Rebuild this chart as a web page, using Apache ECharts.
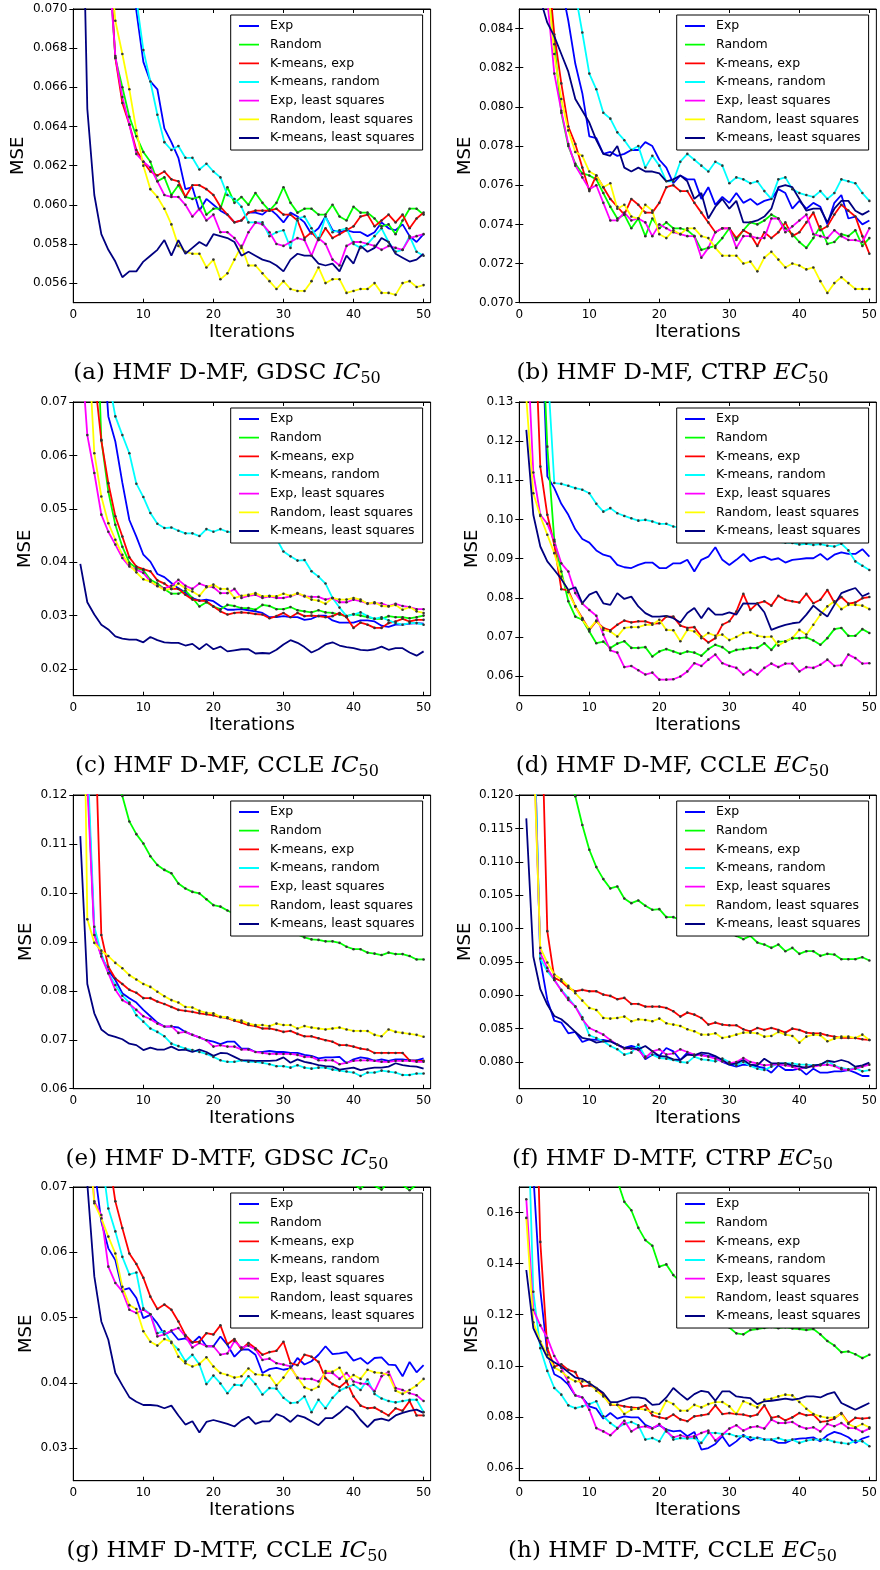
<!DOCTYPE html>
<html>
<head>
<meta charset="utf-8">
<script src="https://cdn.jsdelivr.net/npm/echarts@6.0.0/dist/echarts.min.js"></script>
<style>
  html, body { margin: 0; padding: 0; background: #fff; }
  #chart { width: 880px; height: 1570px; }
</style>
</head>
<body>
<div id="chart"></div>
<script>
const iterations = [1, 2, 3, 4, 5, 6, 7, 8, 9, 10, 11, 12, 13, 14, 15, 16, 17, 18, 19, 20,
  21, 22, 23, 24, 25, 26, 27, 28, 29, 30, 31, 32, 33, 34, 35, 36, 37, 38, 39, 40,
  41, 42, 43, 44, 45, 46, 47, 48, 49, 50];
const names = ['Exp', 'Random', 'K-means, exp', 'K-means, random', 'Exp, least squares',
  'Random, least squares', 'K-means, least squares'];
const xTicks = [0, 10, 20, 30, 40, 50];

// (a) HMF D-MF, GDSC IC50
const aExp = [0.125, 0.108, 0.097, 0.090, 0.084, 0.080, 0.077, 0.0745, 0.0699, 0.0673, 0.0663, 0.0659, 0.0639, 0.0632, 0.0624, 0.0608, 0.0609, 0.0597, 0.0603, 0.0600, 0.0597, 0.0595, 0.0591, 0.0592, 0.0596, 0.0596, 0.0595, 0.0598, 0.0595, 0.0591, 0.0596, 0.0594, 0.0591, 0.0585, 0.0588, 0.0594, 0.0587, 0.0586, 0.0587, 0.0586, 0.0586, 0.0584, 0.0586, 0.0591, 0.0588, 0.0587, 0.0590, 0.0584, 0.0581, 0.0585];
const aRandom = [0.118, 0.100, 0.089, 0.080, 0.073, 0.0675, 0.0660, 0.0645, 0.0635, 0.0627, 0.0622, 0.0612, 0.0614, 0.0605, 0.0610, 0.0604, 0.0603, 0.0604, 0.0595, 0.0598, 0.0598, 0.0609, 0.0601, 0.0604, 0.0600, 0.0606, 0.0601, 0.0597, 0.0601, 0.0609, 0.0601, 0.0596, 0.0598, 0.0598, 0.0595, 0.0595, 0.0600, 0.0594, 0.0592, 0.0599, 0.0596, 0.0596, 0.0593, 0.0589, 0.0590, 0.0585, 0.0592, 0.0598, 0.0598, 0.0595];
const aKmExp = [0.115, 0.098, 0.087, 0.079, 0.0735, 0.0675, 0.0652, 0.0641, 0.0628, 0.0622, 0.0617, 0.0615, 0.0617, 0.0613, 0.0612, 0.0604, 0.0610, 0.0610, 0.0608, 0.0605, 0.0599, 0.0595, 0.0591, 0.0592, 0.0596, 0.0597, 0.0597, 0.0597, 0.0598, 0.0595, 0.0595, 0.0592, 0.0583, 0.0586, 0.0582, 0.0588, 0.0583, 0.0585, 0.0587, 0.0589, 0.0594, 0.0595, 0.0589, 0.0592, 0.0595, 0.0591, 0.0595, 0.0588, 0.0593, 0.0596];
const aKmRand = [0.130, 0.112, 0.100, 0.092, 0.086, 0.081, 0.077, 0.074, 0.0705, 0.0679, 0.0663, 0.0646, 0.0632, 0.0628, 0.0630, 0.0624, 0.0624, 0.0618, 0.0621, 0.0617, 0.0614, 0.0605, 0.0603, 0.0599, 0.0591, 0.0591, 0.0591, 0.0584, 0.0586, 0.0587, 0.0578, 0.0593, 0.0594, 0.0588, 0.0582, 0.0594, 0.0586, 0.0587, 0.0588, 0.0580, 0.0578, 0.0580, 0.0584, 0.0588, 0.0581, 0.0576, 0.0577, 0.0584, 0.0576, 0.0574];
const aExpLS = [0.112, 0.096, 0.086, 0.078, 0.0725, 0.0676, 0.0655, 0.0641, 0.0626, 0.0622, 0.0619, 0.0612, 0.0605, 0.0604, 0.0604, 0.0600, 0.0594, 0.0598, 0.0592, 0.0595, 0.0586, 0.0586, 0.0583, 0.0578, 0.0586, 0.0591, 0.0590, 0.0586, 0.0580, 0.0579, 0.0581, 0.0583, 0.0582, 0.0574, 0.0583, 0.0580, 0.0572, 0.0569, 0.0579, 0.0581, 0.0581, 0.0580, 0.0579, 0.0577, 0.0579, 0.0578, 0.0577, 0.0583, 0.0584, 0.0585];
const aRandLS = [0.110, 0.095, 0.085, 0.078, 0.0735, 0.0694, 0.0677, 0.0659, 0.0638, 0.0620, 0.0608, 0.0604, 0.0598, 0.0590, 0.0579, 0.0576, 0.0575, 0.0575, 0.0568, 0.0572, 0.0562, 0.0565, 0.0572, 0.0579, 0.0569, 0.0569, 0.0565, 0.0561, 0.0557, 0.0561, 0.0557, 0.0556, 0.0556, 0.0561, 0.0568, 0.0560, 0.0562, 0.0562, 0.0555, 0.0556, 0.0557, 0.0557, 0.0560, 0.0555, 0.0555, 0.0554, 0.0560, 0.0561, 0.0558, 0.0559];
const aKmLS = [0.082, 0.0649, 0.0605, 0.0585, 0.0577, 0.0571, 0.0563, 0.0566, 0.0566, 0.0571, 0.0574, 0.0577, 0.0582, 0.0574, 0.0582, 0.0575, 0.0578, 0.0581, 0.0579, 0.0585, 0.0584, 0.0583, 0.0581, 0.0574, 0.0576, 0.0574, 0.0572, 0.0571, 0.0569, 0.0566, 0.0572, 0.0575, 0.0574, 0.0574, 0.0570, 0.0569, 0.0570, 0.0566, 0.0574, 0.0570, 0.0579, 0.0576, 0.0578, 0.0583, 0.0581, 0.0575, 0.0573, 0.0571, 0.0572, 0.0575];
const aTicks = [0.056, 0.058, 0.060, 0.062, 0.064, 0.066, 0.068, 0.070];

// (b) HMF D-MF, CTRP EC50
const bExp = [0.125, 0.110, 0.100, 0.094, 0.090, 0.0862, 0.0844, 0.0822, 0.0807, 0.0785, 0.0784, 0.0776, 0.0777, 0.0775, 0.0776, 0.0778, 0.0778, 0.0782, 0.0780, 0.0773, 0.0769, 0.0761, 0.0765, 0.0763, 0.0763, 0.0753, 0.0759, 0.0750, 0.0754, 0.0751, 0.0756, 0.0751, 0.0753, 0.0750, 0.0752, 0.0753, 0.0758, 0.0756, 0.0748, 0.0752, 0.0748, 0.0751, 0.0749, 0.0740, 0.0751, 0.0755, 0.0743, 0.0744, 0.0740, 0.0742];
const bRandom = [0.115, 0.100, 0.092, 0.087, 0.0832, 0.0797, 0.0780, 0.0771, 0.0766, 0.0765, 0.0763, 0.0756, 0.0749, 0.0743, 0.0745, 0.0738, 0.0743, 0.0734, 0.0743, 0.0738, 0.0741, 0.0738, 0.0738, 0.0737, 0.0734, 0.0727, 0.0728, 0.0729, 0.0733, 0.0738, 0.0732, 0.0737, 0.0741, 0.0740, 0.0742, 0.0745, 0.0743, 0.0738, 0.0735, 0.0731, 0.0728, 0.0733, 0.0739, 0.0730, 0.0731, 0.0735, 0.0734, 0.0737, 0.0729, 0.0733];
const bKmExp = [0.115, 0.101, 0.093, 0.0875, 0.0837, 0.0812, 0.0790, 0.0781, 0.0769, 0.0757, 0.0765, 0.0759, 0.0753, 0.0749, 0.0745, 0.0753, 0.0750, 0.0746, 0.0746, 0.0751, 0.0759, 0.0760, 0.0757, 0.0757, 0.0751, 0.0746, 0.0741, 0.0736, 0.0738, 0.0738, 0.0733, 0.0737, 0.0735, 0.0729, 0.0736, 0.0733, 0.0736, 0.0741, 0.0734, 0.0736, 0.0741, 0.0746, 0.0737, 0.0739, 0.0745, 0.0750, 0.0747, 0.0744, 0.0734, 0.0725];
const bKmRand = [0.140, 0.120, 0.108, 0.100, 0.095, 0.091, 0.088, 0.0858, 0.0838, 0.0817, 0.0809, 0.0797, 0.0794, 0.0787, 0.0783, 0.0778, 0.0780, 0.0769, 0.0775, 0.0770, 0.0762, 0.0762, 0.0772, 0.0776, 0.0773, 0.0770, 0.0767, 0.0772, 0.0770, 0.0761, 0.0764, 0.0763, 0.0761, 0.0762, 0.0757, 0.0753, 0.0763, 0.0764, 0.0758, 0.0756, 0.0755, 0.0754, 0.0757, 0.0753, 0.0756, 0.0763, 0.0762, 0.0761, 0.0756, 0.0752];
const bExpLS = [0.110, 0.097, 0.090, 0.0855, 0.0817, 0.0798, 0.0781, 0.0770, 0.0764, 0.0758, 0.0760, 0.0751, 0.0742, 0.0742, 0.0746, 0.0742, 0.0743, 0.0741, 0.0734, 0.0740, 0.0738, 0.0736, 0.0735, 0.0734, 0.0734, 0.0723, 0.0728, 0.0736, 0.0738, 0.0738, 0.0728, 0.0734, 0.0734, 0.0733, 0.0733, 0.0743, 0.0743, 0.0736, 0.0739, 0.0742, 0.0745, 0.0735, 0.0734, 0.0733, 0.0737, 0.0734, 0.0732, 0.0732, 0.0731, 0.0738];
const bRandLS = [0.112, 0.098, 0.091, 0.0865, 0.0827, 0.0804, 0.0788, 0.0777, 0.0775, 0.0767, 0.0765, 0.0759, 0.0761, 0.0748, 0.0750, 0.0744, 0.0743, 0.0750, 0.0747, 0.0735, 0.0733, 0.0737, 0.0735, 0.0738, 0.0738, 0.0734, 0.0733, 0.0728, 0.0724, 0.0724, 0.0724, 0.0720, 0.0721, 0.0716, 0.0723, 0.0726, 0.0722, 0.0718, 0.0720, 0.0719, 0.0717, 0.0718, 0.0711, 0.0705, 0.0710, 0.0713, 0.0710, 0.0707, 0.0707, 0.0707];
const bKmLS = [0.095, 0.089, 0.0855, 0.0843, 0.0836, 0.0827, 0.0818, 0.0804, 0.0798, 0.0792, 0.0783, 0.0776, 0.0775, 0.0780, 0.0769, 0.0767, 0.0769, 0.0767, 0.0767, 0.0766, 0.0762, 0.0763, 0.0765, 0.0762, 0.0753, 0.0756, 0.0743, 0.0749, 0.0753, 0.0748, 0.0752, 0.0741, 0.0741, 0.0742, 0.0744, 0.0748, 0.0759, 0.0760, 0.0759, 0.0753, 0.0747, 0.0748, 0.0748, 0.0741, 0.0748, 0.0752, 0.0752, 0.0747, 0.0745, 0.0747];
const bTicks = [0.070, 0.072, 0.074, 0.076, 0.078, 0.080, 0.082, 0.084];

// (c) HMF D-MF, CCLE IC50
const cExp = [0.160, 0.130, 0.105, 0.086, 0.0673, 0.0626, 0.0549, 0.0479, 0.0448, 0.0414, 0.0401, 0.0378, 0.0372, 0.0361, 0.0351, 0.0343, 0.0333, 0.0328, 0.0330, 0.0327, 0.0318, 0.0311, 0.0311, 0.0312, 0.0310, 0.0308, 0.0305, 0.0297, 0.0297, 0.0299, 0.0297, 0.0297, 0.0292, 0.0294, 0.0300, 0.0300, 0.0291, 0.0287, 0.0287, 0.0287, 0.0291, 0.0291, 0.0289, 0.0281, 0.0279, 0.0283, 0.0283, 0.0285, 0.0286, 0.0285];
const cRandom = [0.160, 0.130, 0.100, 0.0629, 0.0532, 0.0470, 0.0429, 0.0399, 0.0389, 0.0385, 0.0367, 0.0360, 0.0350, 0.0341, 0.0341, 0.0347, 0.0333, 0.0317, 0.0325, 0.0317, 0.0312, 0.0320, 0.0318, 0.0314, 0.0314, 0.0311, 0.0320, 0.0318, 0.0312, 0.0312, 0.0316, 0.0310, 0.0308, 0.0306, 0.0310, 0.0306, 0.0305, 0.0302, 0.0299, 0.0303, 0.0300, 0.0297, 0.0294, 0.0294, 0.0299, 0.0297, 0.0297, 0.0295, 0.0297, 0.0300];
const cKmExp = [0.130, 0.095, 0.075, 0.0628, 0.0548, 0.0486, 0.0448, 0.0409, 0.0392, 0.0387, 0.0383, 0.0366, 0.0360, 0.0350, 0.0350, 0.0339, 0.0330, 0.0328, 0.0327, 0.0317, 0.0308, 0.0302, 0.0305, 0.0306, 0.0305, 0.0303, 0.0302, 0.0295, 0.0299, 0.0305, 0.0297, 0.0305, 0.0299, 0.0300, 0.0299, 0.0297, 0.0299, 0.0305, 0.0297, 0.0277, 0.0287, 0.0283, 0.0277, 0.0277, 0.0286, 0.0289, 0.0294, 0.0289, 0.0292, 0.0292];
const cKmRand = [0.160, 0.125, 0.100, 0.085, 0.0745, 0.0673, 0.0638, 0.0604, 0.0547, 0.0522, 0.0492, 0.0472, 0.0464, 0.0465, 0.0459, 0.0454, 0.0454, 0.0449, 0.0462, 0.0457, 0.0462, 0.0457, 0.0456, 0.0458, 0.0455, 0.0460, 0.0453, 0.0450, 0.0444, 0.0420, 0.0411, 0.0403, 0.0404, 0.0383, 0.0373, 0.0360, 0.0333, 0.0315, 0.0299, 0.0302, 0.0306, 0.0299, 0.0294, 0.0297, 0.0291, 0.0286, 0.0283, 0.0286, 0.0286, 0.0283];
const cExpLS = [0.082, 0.0638, 0.0567, 0.0489, 0.0457, 0.0433, 0.0408, 0.0392, 0.0386, 0.0380, 0.0364, 0.0355, 0.0351, 0.0356, 0.0367, 0.0356, 0.0350, 0.0360, 0.0355, 0.0353, 0.0342, 0.0342, 0.0350, 0.0333, 0.0337, 0.0339, 0.0333, 0.0336, 0.0333, 0.0333, 0.0336, 0.0341, 0.0336, 0.0335, 0.0335, 0.0330, 0.0333, 0.0325, 0.0325, 0.0330, 0.0327, 0.0323, 0.0323, 0.0323, 0.0318, 0.0322, 0.0318, 0.0316, 0.0312, 0.0312];
const cRandLS = [0.120, 0.085, 0.0604, 0.0523, 0.0473, 0.0442, 0.0414, 0.0395, 0.0381, 0.0368, 0.0364, 0.0356, 0.0348, 0.0350, 0.0360, 0.0351, 0.0345, 0.0337, 0.0353, 0.0358, 0.0350, 0.0350, 0.0333, 0.0337, 0.0339, 0.0342, 0.0336, 0.0337, 0.0336, 0.0341, 0.0337, 0.0342, 0.0337, 0.0330, 0.0328, 0.0322, 0.0333, 0.0330, 0.0330, 0.0333, 0.0330, 0.0322, 0.0325, 0.0318, 0.0317, 0.0320, 0.0311, 0.0316, 0.0308, 0.0305];
const cKmLS = [0.0397, 0.0325, 0.0302, 0.0283, 0.0274, 0.0261, 0.0257, 0.0255, 0.0255, 0.0250, 0.0260, 0.0254, 0.0250, 0.0249, 0.0249, 0.0244, 0.0247, 0.0237, 0.0247, 0.0237, 0.0242, 0.0233, 0.0235, 0.0237, 0.0237, 0.0229, 0.0230, 0.0229, 0.0236, 0.0246, 0.0254, 0.0249, 0.0241, 0.0231, 0.0237, 0.0246, 0.0250, 0.0244, 0.0241, 0.0239, 0.0236, 0.0235, 0.0237, 0.0242, 0.0236, 0.0239, 0.0239, 0.0231, 0.0225, 0.0233];
const cTicks = [0.02, 0.03, 0.04, 0.05, 0.06, 0.07];

// (d) HMF D-MF, CCLE EC50
const dExp = [0.200, 0.180, 0.160, 0.1110, 0.1080, 0.1040, 0.1012, 0.0975, 0.0950, 0.0941, 0.0921, 0.0910, 0.0905, 0.0884, 0.0878, 0.0876, 0.0884, 0.0890, 0.0890, 0.0876, 0.0876, 0.0888, 0.0888, 0.0897, 0.0867, 0.0897, 0.0905, 0.0929, 0.0897, 0.0884, 0.0897, 0.0912, 0.0893, 0.0901, 0.0905, 0.0897, 0.0901, 0.0890, 0.0897, 0.0899, 0.0901, 0.0901, 0.0912, 0.0897, 0.0910, 0.0916, 0.0912, 0.0912, 0.0924, 0.0905];
const dRandom = [0.220, 0.190, 0.160, 0.1186, 0.0948, 0.0867, 0.0791, 0.0752, 0.0744, 0.0714, 0.0684, 0.0688, 0.0672, 0.0683, 0.0689, 0.0672, 0.0672, 0.0674, 0.0650, 0.0663, 0.0669, 0.0663, 0.0657, 0.0663, 0.0660, 0.0652, 0.0669, 0.0680, 0.0674, 0.0660, 0.0667, 0.0669, 0.0672, 0.0672, 0.0684, 0.0667, 0.0688, 0.0688, 0.0697, 0.0697, 0.0699, 0.0691, 0.0680, 0.0697, 0.0720, 0.0723, 0.0703, 0.0703, 0.0720, 0.0710];
const dKmExp = [0.200, 0.160, 0.1135, 0.1012, 0.0935, 0.0822, 0.0819, 0.0778, 0.0748, 0.0718, 0.0740, 0.0723, 0.0717, 0.0731, 0.0742, 0.0737, 0.0740, 0.0740, 0.0734, 0.0735, 0.0752, 0.0752, 0.0729, 0.0723, 0.0725, 0.0701, 0.0686, 0.0697, 0.0731, 0.0740, 0.0765, 0.0810, 0.0769, 0.0786, 0.0791, 0.0780, 0.0805, 0.0795, 0.0791, 0.0788, 0.0810, 0.0786, 0.0795, 0.0820, 0.0788, 0.0802, 0.0785, 0.0788, 0.0799, 0.0802];
const dKmRand = [0.250, 0.210, 0.170, 0.140, 0.1093, 0.1091, 0.1086, 0.1080, 0.1076, 0.1067, 0.1040, 0.1020, 0.1029, 0.1016, 0.1009, 0.1003, 0.0997, 0.0999, 0.0995, 0.0989, 0.0989, 0.0982, 0.0980, 0.0976, 0.0977, 0.0971, 0.0970, 0.0964, 0.0965, 0.0960, 0.0957, 0.0956, 0.0951, 0.0952, 0.0947, 0.0945, 0.0943, 0.0941, 0.0940, 0.0936, 0.0938, 0.0935, 0.0937, 0.0933, 0.0931, 0.0938, 0.0921, 0.0893, 0.0882, 0.0871];
const dExpLS = [0.150, 0.1120, 0.1012, 0.0989, 0.0944, 0.0888, 0.0867, 0.0812, 0.0785, 0.0769, 0.0754, 0.0706, 0.0666, 0.0660, 0.0623, 0.0626, 0.0615, 0.0604, 0.0609, 0.0591, 0.0591, 0.0592, 0.0599, 0.0612, 0.0633, 0.0626, 0.0642, 0.0655, 0.0633, 0.0626, 0.0621, 0.0604, 0.0616, 0.0604, 0.0621, 0.0632, 0.0623, 0.0632, 0.0632, 0.0612, 0.0623, 0.0621, 0.0629, 0.0642, 0.0626, 0.0628, 0.0655, 0.0646, 0.0632, 0.0633];
const dRandLS = [0.1310, 0.1067, 0.1009, 0.0961, 0.0914, 0.0854, 0.0814, 0.0778, 0.0744, 0.0720, 0.0742, 0.0718, 0.0714, 0.0701, 0.0723, 0.0725, 0.0725, 0.0731, 0.0731, 0.0744, 0.0718, 0.0717, 0.0689, 0.0718, 0.0714, 0.0697, 0.0710, 0.0703, 0.0706, 0.0692, 0.0700, 0.0710, 0.0712, 0.0703, 0.0700, 0.0701, 0.0678, 0.0689, 0.0697, 0.0718, 0.0706, 0.0731, 0.0757, 0.0778, 0.0791, 0.0771, 0.0782, 0.0782, 0.0780, 0.0771];
const dKmLS = [0.1229, 0.1012, 0.0931, 0.0893, 0.0871, 0.0848, 0.0820, 0.0827, 0.0786, 0.0808, 0.0816, 0.0786, 0.0782, 0.0812, 0.0797, 0.0803, 0.0778, 0.0761, 0.0752, 0.0752, 0.0754, 0.0748, 0.0737, 0.0761, 0.0774, 0.0748, 0.0774, 0.0757, 0.0757, 0.0763, 0.0757, 0.0786, 0.0785, 0.0785, 0.0763, 0.0718, 0.0725, 0.0731, 0.0735, 0.0737, 0.0757, 0.0780, 0.0765, 0.0752, 0.0782, 0.0812, 0.0819, 0.0825, 0.0804, 0.0812];
const dTicks = [0.06, 0.07, 0.08, 0.09, 0.10, 0.11, 0.12, 0.13];

// (e) HMF D-MTF, GDSC IC50
const eExp = [0.250, 0.125, 0.0917, 0.0871, 0.0842, 0.0822, 0.0795, 0.0785, 0.0776, 0.0761, 0.0748, 0.0735, 0.0727, 0.0727, 0.0725, 0.0716, 0.0710, 0.0705, 0.0699, 0.0696, 0.0691, 0.0696, 0.0696, 0.0682, 0.0682, 0.0675, 0.0675, 0.0677, 0.0675, 0.0675, 0.0673, 0.0673, 0.0669, 0.0667, 0.0662, 0.0664, 0.0664, 0.0665, 0.0652, 0.0660, 0.0664, 0.0662, 0.0657, 0.0660, 0.0657, 0.0660, 0.0660, 0.0658, 0.0658, 0.0662];
const eRandom = [0.300, 0.220, 0.175, 0.150, 0.135, 0.126, 0.1198, 0.1146, 0.1120, 0.1101, 0.1075, 0.1057, 0.1047, 0.1040, 0.1019, 0.1009, 0.1002, 0.0999, 0.0987, 0.0975, 0.0972, 0.0964, 0.0957, 0.0953, 0.0947, 0.0944, 0.0938, 0.0936, 0.0929, 0.0926, 0.0920, 0.0915, 0.0909, 0.0905, 0.0904, 0.0901, 0.0901, 0.0898, 0.0890, 0.0885, 0.0885, 0.0878, 0.0876, 0.0873, 0.0878, 0.0875, 0.0875, 0.0871, 0.0864, 0.0864];
const eKmExp = [0.300, 0.200, 0.140, 0.0914, 0.0849, 0.0825, 0.0814, 0.0802, 0.0796, 0.0785, 0.0785, 0.0778, 0.0773, 0.0767, 0.0761, 0.0759, 0.0757, 0.0754, 0.0752, 0.0750, 0.0746, 0.0744, 0.0739, 0.0735, 0.0730, 0.0728, 0.0723, 0.0723, 0.0720, 0.0716, 0.0718, 0.0712, 0.0707, 0.0707, 0.0703, 0.0699, 0.0696, 0.0689, 0.0689, 0.0686, 0.0682, 0.0680, 0.0673, 0.0673, 0.0673, 0.0673, 0.0673, 0.0658, 0.0657, 0.0657];
const eKmRand = [0.260, 0.128, 0.0931, 0.0876, 0.0836, 0.0812, 0.0790, 0.0776, 0.0750, 0.0737, 0.0723, 0.0716, 0.0707, 0.0692, 0.0687, 0.0682, 0.0679, 0.0675, 0.0671, 0.0665, 0.0658, 0.0655, 0.0655, 0.0658, 0.0655, 0.0655, 0.0653, 0.0650, 0.0646, 0.0646, 0.0643, 0.0648, 0.0643, 0.0641, 0.0643, 0.0643, 0.0639, 0.0637, 0.0635, 0.0633, 0.0626, 0.0633, 0.0633, 0.0637, 0.0635, 0.0633, 0.0628, 0.0628, 0.0631, 0.0631];
const eExpLS = [0.240, 0.122, 0.0914, 0.0870, 0.0836, 0.0802, 0.0781, 0.0773, 0.0761, 0.0748, 0.0742, 0.0733, 0.0727, 0.0728, 0.0714, 0.0716, 0.0710, 0.0705, 0.0699, 0.0686, 0.0689, 0.0686, 0.0686, 0.0680, 0.0680, 0.0675, 0.0673, 0.0671, 0.0671, 0.0671, 0.0671, 0.0669, 0.0665, 0.0665, 0.0658, 0.0658, 0.0658, 0.0650, 0.0653, 0.0657, 0.0658, 0.0658, 0.0657, 0.0655, 0.0655, 0.0657, 0.0657, 0.0657, 0.0655, 0.0655];
const eRandLS = [0.200, 0.0946, 0.0898, 0.0882, 0.0871, 0.0857, 0.0846, 0.0832, 0.0823, 0.0814, 0.0808, 0.0798, 0.0789, 0.0781, 0.0776, 0.0767, 0.0766, 0.0759, 0.0755, 0.0754, 0.0747, 0.0746, 0.0740, 0.0739, 0.0733, 0.0730, 0.0730, 0.0728, 0.0733, 0.0730, 0.0730, 0.0723, 0.0728, 0.0725, 0.0723, 0.0721, 0.0723, 0.0725, 0.0721, 0.0718, 0.0718, 0.0718, 0.0710, 0.0707, 0.0721, 0.0716, 0.0714, 0.0712, 0.0710, 0.0706];
const eKmLS = [0.1116, 0.0814, 0.0754, 0.0721, 0.0710, 0.0706, 0.0701, 0.0692, 0.0689, 0.0679, 0.0684, 0.0680, 0.0680, 0.0686, 0.0679, 0.0680, 0.0675, 0.0680, 0.0675, 0.0667, 0.0673, 0.0672, 0.0665, 0.0658, 0.0658, 0.0657, 0.0657, 0.0657, 0.0658, 0.0664, 0.0653, 0.0660, 0.0655, 0.0652, 0.0648, 0.0646, 0.0645, 0.0639, 0.0641, 0.0643, 0.0638, 0.0641, 0.0643, 0.0643, 0.0645, 0.0652, 0.0648, 0.0646, 0.0645, 0.0641];
const eTicks = [0.06, 0.07, 0.08, 0.09, 0.10, 0.11, 0.12];

// (f) HMF D-MTF, CTRP EC50
const fExp = [0.200, 0.135, 0.0953, 0.0893, 0.0862, 0.0859, 0.0843, 0.0845, 0.0830, 0.0834, 0.0833, 0.0833, 0.0831, 0.0826, 0.0821, 0.0824, 0.0821, 0.0804, 0.0811, 0.0809, 0.0821, 0.0816, 0.0803, 0.0814, 0.0810, 0.0811, 0.0809, 0.0808, 0.0800, 0.0796, 0.0793, 0.0796, 0.0795, 0.0793, 0.0791, 0.0784, 0.0795, 0.0788, 0.0788, 0.0790, 0.0781, 0.0790, 0.0784, 0.0784, 0.0786, 0.0786, 0.0788, 0.0784, 0.0779, 0.0779];
const fRandom = [0.250, 0.200, 0.170, 0.150, 0.138, 0.130, 0.124, 0.1198, 0.1155, 0.1118, 0.1092, 0.1074, 0.1060, 0.1063, 0.1045, 0.1038, 0.1042, 0.1034, 0.1028, 0.1029, 0.1017, 0.1017, 0.1013, 0.1011, 0.1005, 0.1004, 0.0999, 0.0998, 0.0994, 0.0992, 0.0989, 0.0984, 0.0989, 0.0979, 0.0976, 0.0971, 0.0976, 0.0966, 0.0971, 0.0962, 0.0966, 0.0966, 0.0959, 0.0962, 0.0961, 0.0954, 0.0954, 0.0954, 0.0957, 0.0952];
const fKmExp = [0.300, 0.200, 0.140, 0.0996, 0.0926, 0.0921, 0.0911, 0.0906, 0.0908, 0.0906, 0.0906, 0.0901, 0.0899, 0.0894, 0.0896, 0.0887, 0.0887, 0.0883, 0.0883, 0.0883, 0.0881, 0.0876, 0.0868, 0.0874, 0.0871, 0.0866, 0.0856, 0.0859, 0.0856, 0.0855, 0.0855, 0.0849, 0.0846, 0.0851, 0.0848, 0.0851, 0.0848, 0.0844, 0.0850, 0.0848, 0.0844, 0.0843, 0.0843, 0.0840, 0.0838, 0.0836, 0.0836, 0.0836, 0.0834, 0.0833];
const fKmRand = [0.220, 0.135, 0.0955, 0.0936, 0.0923, 0.0908, 0.0896, 0.0883, 0.0867, 0.0840, 0.0836, 0.0831, 0.0824, 0.0819, 0.0811, 0.0814, 0.0826, 0.0808, 0.0811, 0.0806, 0.0805, 0.0803, 0.0800, 0.0799, 0.0808, 0.0804, 0.0803, 0.0801, 0.0805, 0.0800, 0.0795, 0.0800, 0.0794, 0.0790, 0.0788, 0.0793, 0.0798, 0.0798, 0.0798, 0.0796, 0.0796, 0.0795, 0.0796, 0.0801, 0.0795, 0.0791, 0.0789, 0.0791, 0.0786, 0.0788];
const fExpLS = [0.200, 0.130, 0.0963, 0.0941, 0.0923, 0.0907, 0.0893, 0.0883, 0.0864, 0.0851, 0.0846, 0.0841, 0.0833, 0.0826, 0.0820, 0.0820, 0.0818, 0.0806, 0.0816, 0.0819, 0.0811, 0.0813, 0.0819, 0.0815, 0.0811, 0.0810, 0.0808, 0.0805, 0.0801, 0.0798, 0.0800, 0.0806, 0.0800, 0.0798, 0.0795, 0.0796, 0.0796, 0.0795, 0.0793, 0.0789, 0.0793, 0.0793, 0.0795, 0.0796, 0.0794, 0.0789, 0.0788, 0.0790, 0.0793, 0.0796];
const fRandLS = [0.180, 0.128, 0.0971, 0.0949, 0.0931, 0.0924, 0.0914, 0.0903, 0.0892, 0.0881, 0.0878, 0.0866, 0.0865, 0.0866, 0.0868, 0.0861, 0.0864, 0.0863, 0.0861, 0.0865, 0.0858, 0.0856, 0.0854, 0.0849, 0.0846, 0.0841, 0.0841, 0.0843, 0.0836, 0.0838, 0.0841, 0.0844, 0.0844, 0.0843, 0.0838, 0.0839, 0.0845, 0.0841, 0.0839, 0.0829, 0.0838, 0.0841, 0.0840, 0.0831, 0.0835, 0.0838, 0.0838, 0.0836, 0.0841, 0.0833];
const fKmLS = [0.1165, 0.0958, 0.0909, 0.0886, 0.0869, 0.0864, 0.0855, 0.0845, 0.0836, 0.0834, 0.0829, 0.0831, 0.0831, 0.0826, 0.0821, 0.0821, 0.0819, 0.0824, 0.0816, 0.0809, 0.0808, 0.0804, 0.0803, 0.0811, 0.0810, 0.0814, 0.0813, 0.0809, 0.0803, 0.0796, 0.0798, 0.0803, 0.0796, 0.0795, 0.0805, 0.0798, 0.0798, 0.0798, 0.0795, 0.0793, 0.0791, 0.0795, 0.0796, 0.0802, 0.0800, 0.0803, 0.0800, 0.0793, 0.0795, 0.0799];
const fTicks = [0.080, 0.085, 0.090, 0.095, 0.100, 0.105, 0.110, 0.115, 0.120];

// (g) HMF D-MTF, CCLE IC50
const gExp = [0.110, 0.085, 0.073, 0.0647, 0.0606, 0.0588, 0.0542, 0.0545, 0.0530, 0.0499, 0.0504, 0.0491, 0.0474, 0.0479, 0.0466, 0.0468, 0.0461, 0.0471, 0.0456, 0.0456, 0.0471, 0.0458, 0.0440, 0.0451, 0.0451, 0.0443, 0.0415, 0.0421, 0.0423, 0.0420, 0.0422, 0.0438, 0.0428, 0.0433, 0.0443, 0.0456, 0.0444, 0.0445, 0.0447, 0.0434, 0.0438, 0.0429, 0.0438, 0.0439, 0.0428, 0.0427, 0.0410, 0.0432, 0.0416, 0.0427];
const gRandom = [0.300, 0.240, 0.200, 0.175, 0.158, 0.145, 0.135, 0.127, 0.120, 0.114, 0.109, 0.105, 0.101, 0.098, 0.0955, 0.093, 0.091, 0.089, 0.0875, 0.086, 0.0848, 0.0836, 0.0825, 0.0815, 0.0806, 0.0798, 0.0790, 0.0783, 0.0776, 0.0770, 0.0764, 0.0758, 0.0752, 0.0747, 0.0742, 0.0737, 0.0728, 0.0722, 0.0715, 0.0705, 0.0697, 0.0708, 0.0702, 0.0696, 0.0708, 0.0712, 0.0703, 0.0695, 0.0704, 0.0710];
const gKmExp = [0.150, 0.120, 0.100, 0.085, 0.075, 0.0678, 0.0637, 0.0598, 0.0582, 0.0561, 0.0532, 0.0513, 0.0520, 0.0512, 0.0494, 0.0473, 0.0462, 0.0463, 0.0476, 0.0474, 0.0488, 0.0459, 0.0467, 0.0451, 0.0461, 0.0453, 0.0443, 0.0447, 0.0449, 0.0463, 0.0430, 0.0427, 0.0443, 0.0440, 0.0432, 0.0407, 0.0398, 0.0393, 0.0402, 0.0379, 0.0365, 0.0361, 0.0362, 0.0356, 0.0350, 0.0361, 0.0357, 0.0372, 0.0350, 0.0350];
const gKmRand = [0.130, 0.100, 0.085, 0.075, 0.0667, 0.0632, 0.0593, 0.0566, 0.0569, 0.0514, 0.0505, 0.0476, 0.0479, 0.0461, 0.0451, 0.0433, 0.0443, 0.0428, 0.0398, 0.0411, 0.0399, 0.0384, 0.0397, 0.0396, 0.0410, 0.0398, 0.0382, 0.0392, 0.0391, 0.0377, 0.0369, 0.0370, 0.0379, 0.0355, 0.0374, 0.0361, 0.0377, 0.0388, 0.0393, 0.0397, 0.0389, 0.0405, 0.0383, 0.0376, 0.0372, 0.0370, 0.0372, 0.0374, 0.0374, 0.0355];
const gExpLS = [0.110, 0.082, 0.0678, 0.0657, 0.0578, 0.0553, 0.0540, 0.0512, 0.0507, 0.0512, 0.0505, 0.0471, 0.0474, 0.0480, 0.0484, 0.0471, 0.0454, 0.0461, 0.0456, 0.0456, 0.0443, 0.0445, 0.0464, 0.0454, 0.0457, 0.0451, 0.0435, 0.0437, 0.0430, 0.0428, 0.0425, 0.0407, 0.0406, 0.0406, 0.0402, 0.0415, 0.0415, 0.0406, 0.0415, 0.0402, 0.0399, 0.0398, 0.0387, 0.0410, 0.0417, 0.0392, 0.0389, 0.0384, 0.0381, 0.0372];
const gRandLS = [0.105, 0.080, 0.0675, 0.0652, 0.0624, 0.0598, 0.0547, 0.0519, 0.0513, 0.0479, 0.0463, 0.0457, 0.0467, 0.0463, 0.0440, 0.0430, 0.0425, 0.0429, 0.0439, 0.0425, 0.0415, 0.0412, 0.0408, 0.0410, 0.0422, 0.0413, 0.0412, 0.0411, 0.0396, 0.0408, 0.0423, 0.0408, 0.0393, 0.0389, 0.0394, 0.0418, 0.0417, 0.0423, 0.0403, 0.0412, 0.0406, 0.0420, 0.0416, 0.0415, 0.0412, 0.0388, 0.0383, 0.0389, 0.0396, 0.0406];
const gKmLS = [0.095, 0.0705, 0.0563, 0.0494, 0.0466, 0.0415, 0.0396, 0.0378, 0.0371, 0.0366, 0.0366, 0.0365, 0.0361, 0.0365, 0.0350, 0.0336, 0.0341, 0.0324, 0.0340, 0.0343, 0.0340, 0.0337, 0.0333, 0.0342, 0.0348, 0.0337, 0.0341, 0.0341, 0.0352, 0.0348, 0.0340, 0.0350, 0.0347, 0.0341, 0.0335, 0.0346, 0.0346, 0.0354, 0.0364, 0.0357, 0.0343, 0.0332, 0.0343, 0.0345, 0.0342, 0.0350, 0.0354, 0.0357, 0.0359, 0.0354];
const gTicks = [0.03, 0.04, 0.05, 0.06, 0.07];

// (h) HMF D-MTF, CCLE EC50
const hExp = [0.300, 0.175, 0.1297, 0.1049, 0.0967, 0.0952, 0.0926, 0.0884, 0.0876, 0.0841, 0.0832, 0.0793, 0.0815, 0.0793, 0.0802, 0.0798, 0.0798, 0.0769, 0.0756, 0.0767, 0.0750, 0.0743, 0.0746, 0.0724, 0.0741, 0.0672, 0.0678, 0.0694, 0.0724, 0.0685, 0.0704, 0.0730, 0.0707, 0.0720, 0.0711, 0.0711, 0.0698, 0.0698, 0.0711, 0.0715, 0.0717, 0.0720, 0.0704, 0.0728, 0.0741, 0.0733, 0.0720, 0.0698, 0.0715, 0.0724];
const hRandom = [0.400, 0.350, 0.310, 0.280, 0.255, 0.235, 0.220, 0.207, 0.197, 0.189, 0.182, 0.176, 0.1745, 0.1725, 0.1642, 0.1609, 0.1540, 0.1492, 0.1470, 0.1388, 0.1397, 0.1355, 0.1330, 0.1305, 0.1288, 0.1260, 0.1243, 0.1212, 0.1185, 0.1150, 0.1127, 0.1123, 0.1140, 0.1144, 0.1148, 0.1152, 0.1147, 0.1151, 0.1146, 0.1144, 0.1140, 0.1144, 0.1123, 0.1097, 0.1079, 0.1053, 0.1056, 0.1045, 0.1030, 0.1043];
const hKmExp = [0.400, 0.250, 0.1485, 0.1069, 0.0997, 0.1006, 0.0984, 0.0975, 0.0919, 0.0923, 0.0913, 0.0887, 0.0847, 0.0847, 0.0841, 0.0837, 0.0834, 0.0845, 0.0806, 0.0798, 0.0793, 0.0809, 0.0790, 0.0783, 0.0802, 0.0806, 0.0811, 0.0845, 0.0811, 0.0815, 0.0811, 0.0809, 0.0802, 0.0809, 0.0845, 0.0796, 0.0802, 0.0786, 0.0798, 0.0815, 0.0806, 0.0809, 0.0780, 0.0783, 0.0793, 0.0815, 0.0776, 0.0796, 0.0793, 0.0796];
const hKmRand = [0.220, 0.1290, 0.1069, 0.0980, 0.0913, 0.0887, 0.0845, 0.0834, 0.0841, 0.0850, 0.0861, 0.0802, 0.0776, 0.0756, 0.0772, 0.0780, 0.0767, 0.0711, 0.0717, 0.0704, 0.0750, 0.0711, 0.0717, 0.0715, 0.0717, 0.0698, 0.0737, 0.0737, 0.0733, 0.0733, 0.0724, 0.0724, 0.0720, 0.0717, 0.0711, 0.0711, 0.0717, 0.0707, 0.0711, 0.0698, 0.0707, 0.0711, 0.0711, 0.0711, 0.0702, 0.0698, 0.0694, 0.0707, 0.0704, 0.0685];
const hExpLS = [0.1652, 0.1219, 0.1158, 0.1109, 0.1038, 0.0992, 0.0936, 0.0884, 0.0876, 0.0828, 0.0756, 0.0743, 0.0728, 0.0754, 0.0785, 0.0743, 0.0759, 0.0763, 0.0754, 0.0772, 0.0743, 0.0720, 0.0728, 0.0720, 0.0724, 0.0737, 0.0746, 0.0707, 0.0730, 0.0754, 0.0767, 0.0746, 0.0759, 0.0763, 0.0754, 0.0789, 0.0776, 0.0776, 0.0780, 0.0763, 0.0754, 0.0759, 0.0743, 0.0772, 0.0763, 0.0776, 0.0756, 0.0756, 0.0741, 0.0754];
const hRandLS = [0.1579, 0.1170, 0.1095, 0.1043, 0.0993, 0.0978, 0.0954, 0.0939, 0.0939, 0.0936, 0.0902, 0.0880, 0.0850, 0.0847, 0.0811, 0.0828, 0.0832, 0.0828, 0.0819, 0.0811, 0.0863, 0.0850, 0.0824, 0.0824, 0.0847, 0.0837, 0.0850, 0.0858, 0.0858, 0.0841, 0.0811, 0.0861, 0.0850, 0.0837, 0.0867, 0.0871, 0.0880, 0.0887, 0.0884, 0.0858, 0.0832, 0.0811, 0.0802, 0.0796, 0.0798, 0.0811, 0.0772, 0.0759, 0.0772, 0.0759];
const hKmLS = [0.1375, 0.1147, 0.1088, 0.1032, 0.1014, 0.0997, 0.0975, 0.0954, 0.0949, 0.0932, 0.0913, 0.0893, 0.0858, 0.0858, 0.0867, 0.0876, 0.0876, 0.0871, 0.0847, 0.0850, 0.0876, 0.0913, 0.0889, 0.0867, 0.0889, 0.0902, 0.0897, 0.0863, 0.0900, 0.0900, 0.0880, 0.0876, 0.0873, 0.0850, 0.0861, 0.0863, 0.0867, 0.0871, 0.0867, 0.0871, 0.0880, 0.0880, 0.0876, 0.0889, 0.0897, 0.0854, 0.0841, 0.0828, 0.0841, 0.0854];
const hTicks = [0.06, 0.08, 0.10, 0.12, 0.14, 0.16];

const panels = [
  {lines: [aExp, aRandom, aKmExp, aKmRand, aExpLS, aRandLS, aKmLS], ticks: aTicks, min: 0.055, max: 0.070, digits: 3, caption: '(a) HMF D-MF, GDSC ', sym: 'IC'},
  {lines: [bExp, bRandom, bKmExp, bKmRand, bExpLS, bRandLS, bKmLS], ticks: bTicks, min: 0.070, max: 0.085, digits: 3, caption: '(b) HMF D-MF, CTRP ', sym: 'EC'},
  {lines: [cExp, cRandom, cKmExp, cKmRand, cExpLS, cRandLS, cKmLS], ticks: cTicks, min: 0.015, max: 0.070, digits: 2, caption: '(c) HMF D-MF, CCLE ', sym: 'IC'},
  {lines: [dExp, dRandom, dKmExp, dKmRand, dExpLS, dRandLS, dKmLS], ticks: dTicks, min: 0.055, max: 0.130, digits: 2, caption: '(d) HMF D-MF, CCLE ', sym: 'EC'},
  {lines: [eExp, eRandom, eKmExp, eKmRand, eExpLS, eRandLS, eKmLS], ticks: eTicks, min: 0.060, max: 0.120, digits: 2, caption: '(e) HMF D-MTF, GDSC ', sym: 'IC'},
  {lines: [fExp, fRandom, fKmExp, fKmRand, fExpLS, fRandLS, fKmLS], ticks: fTicks, min: 0.076, max: 0.120, digits: 3, caption: '(f) HMF D-MTF, CTRP ', sym: 'EC'},
  {lines: [gExp, gRandom, gKmExp, gKmRand, gExpLS, gRandLS, gKmLS], ticks: gTicks, min: 0.025, max: 0.070, digits: 2, caption: '(g) HMF D-MTF, CCLE ', sym: 'IC'},
  {lines: [hExp, hRandom, hKmExp, hKmRand, hExpLS, hRandLS, hKmLS], ticks: hTicks, min: 0.055, max: 0.170, digits: 2, caption: '(h) HMF D-MTF, CCLE ', sym: 'EC'}
];

// layout
const colors = ['#0000ff', '#00ff00', '#ff0000', '#00ffff', '#ff00ff', '#ffff00', '#000080'];
const dotted = [false, true, true, true, true, true, false];
const colLeft = [73.3, 519.3];
const captionX = [227, 672.5];
const rowTop = [9, 402, 795, 1187];
const plotW = 357.3, plotH = 293.7;
const mseGap = [45.5, 45.3, 38.5, 38, 37.6, 45.3, 37.6, 38];
const sans = 'DejaVu Sans';
const serif = 'DejaVu Serif';
const legendIcon = 'path://M0,0h0.05v0.05h-0.05z M0,6.1h20v1.8h-20z M19.95,13.95h0.05v0.05h-0.05z';

const chart = echarts.init(document.getElementById('chart'), null, {renderer: 'canvas'});

const grid = [], xAxis = [], yAxis = [], series = [], legend = [], graphic = [];

panels.forEach((p, k) => {
  const left = colLeft[k % 2];
  const top = rowTop[Math.floor(k / 2)];
  grid.push({left: left, top: top, width: plotW, height: plotH, show: true, borderColor: '#000', borderWidth: 1, containLabel: false});

  const tick = (vals) => ({show: true, inside: true, length: 4, customValues: vals, lineStyle: {color: '#000', width: 1}});
  xAxis.push({
    type: 'value', gridIndex: k, min: 0, max: 51, position: 'bottom',
    axisLine: {show: true, lineStyle: {color: '#000', width: 1}},
    axisTick: tick(xTicks),
    axisLabel: {customValues: xTicks, color: '#000', fontSize: 12, fontFamily: sans, margin: 6},
    splitLine: {show: false},
    name: 'Iterations', nameLocation: 'middle', nameGap: 20.5,
    nameTextStyle: {fontSize: 18, color: '#000', fontFamily: sans}
  });
  xAxis.push({
    type: 'value', gridIndex: k, min: 0, max: 51, position: 'top',
    axisLine: {show: true, lineStyle: {color: '#000', width: 1}},
    axisTick: tick(xTicks), axisLabel: {show: false}, splitLine: {show: false}
  });
  yAxis.push({
    type: 'value', gridIndex: k, min: p.min, max: p.max, position: 'left',
    axisLine: {show: true, lineStyle: {color: '#000', width: 1}},
    axisTick: tick(p.ticks),
    axisLabel: {customValues: p.ticks, color: '#000', fontSize: 12, fontFamily: sans, margin: 6,
      formatter: (v) => v.toFixed(p.digits)},
    splitLine: {show: false},
    name: 'MSE', nameLocation: 'middle', nameGap: mseGap[k], nameRotate: 90,
    nameTextStyle: {fontSize: 18, color: '#000', fontFamily: sans}
  });
  yAxis.push({
    type: 'value', gridIndex: k, min: p.min, max: p.max, position: 'right',
    axisLine: {show: true, lineStyle: {color: '#000', width: 1}},
    axisTick: tick(p.ticks), axisLabel: {show: false}, splitLine: {show: false}
  });

  p.lines.forEach((vals, i) => {
    series.push({
      type: 'line', name: names[i], xAxisIndex: 2 * k, yAxisIndex: 2 * k,
      data: iterations.map((it, j) => [it, vals[j]]),
      lineStyle: {color: colors[i], width: 1.8},
      itemStyle: {color: dotted[i] ? '#333' : colors[i], borderWidth: 0},
      symbol: dotted[i] ? 'circle' : 'none', symbolSize: 2.6,
      showSymbol: dotted[i], showAllSymbol: true,
      clip: true, silent: true, animation: false,
      emphasis: {disabled: true}
    });
  });

  legend.push({
    orient: 'vertical', left: left + 157.4, top: top + 6,
    padding: [4, 8, 5, 8.3], itemWidth: 20, itemHeight: 14, itemGap: 4.67,
    icon: legendIcon, backgroundColor: '#fff', borderColor: '#000', borderWidth: 1,
    selectedMode: false,
    textStyle: {fontSize: 12.5, fontFamily: sans, color: '#000', lineHeight: 14, padding: [0, 0, 0, 6]},
    data: names.map((n, i) => ({name: n, itemStyle: {color: colors[i], borderWidth: 0}}))
  });

  graphic.push({
    type: 'text', x: captionX[k % 2], y: top + plotH + 70,
    style: {
      text: '{m|' + p.caption + '}{i|' + p.sym + '}{s|50}',
      align: 'center', verticalAlign: 'middle', fill: '#000',
      rich: {
        m: {fontFamily: serif, fontSize: 23, lineHeight: 23, verticalAlign: 'top', fill: '#000'},
        i: {fontFamily: serif, fontStyle: 'italic', fontSize: 23, lineHeight: 23, verticalAlign: 'top', fill: '#000'},
        s: {fontFamily: serif, fontSize: 16, lineHeight: 16, verticalAlign: 'top', padding: [10, 0, 0, 0], fill: '#000'}
      }
    }
  });
});

chart.setOption({
  animation: false,
  backgroundColor: '#fff',
  textStyle: {fontFamily: sans},
  grid, xAxis, yAxis, series, legend, graphic
});
</script>
</body>
</html>
